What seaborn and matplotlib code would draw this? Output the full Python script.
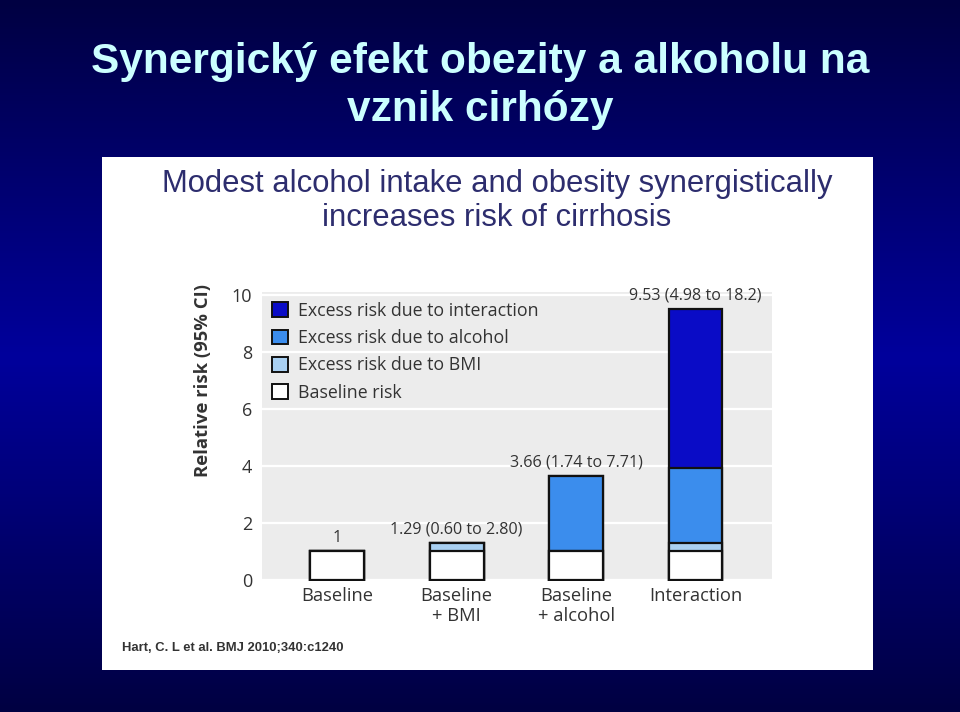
import numpy as np
import matplotlib
matplotlib.use("Agg")
import matplotlib.pyplot as plt
from matplotlib.patches import Patch, Rectangle
from matplotlib.colors import LinearSegmentedColormap
import seaborn as sns

# datos (Hart et al., BMJ 2010)
categorias = ["Baseline", "Baseline\n+ BMI", "Baseline\n+ alcohol", "Interaction"]
riesgo_base = [1.0, 1.0, 1.0, 1.0]
exceso_imc = [0.0, 0.29, 0.0, 0.29]
exceso_alcohol = [0.0, 0.0, 2.66, 2.66]
exceso_interaccion = [0.0, 0.0, 0.0, 5.58]
etiquetas_rr = ["1", "1.29 (0.60 to 2.80)", "3.66 (1.74 to 7.71)", "9.53 (4.98 to 18.2)"]
nombres_capas = ["Excess risk due to interaction", "Excess risk due to alcohol",
                 "Excess risk due to BMI", "Baseline risk"]
colores_capas = ["#0a0cc6", "#3b8ded", "#a9d0f2", "#ffffff"]
ticks_y = [0, 2, 4, 6, 8, 10]

sns.set_theme(style="darkgrid")
plt.rcParams["font.family"] = ["Open Sans", "DejaVu Sans"]

fig = plt.figure(figsize=(9.6, 7.12), dpi=100)

# fondo degradado azul de la diapositiva
fondo = fig.add_axes([0, 0, 1, 1])
fondo.set_axis_off()
mapa = LinearSegmentedColormap.from_list("diapo", ["#000042", "#00009c", "#000042"])
filas = np.linspace(0, 1, 400).reshape(-1, 1)
fondo.imshow(filas, aspect="auto", cmap=mapa, extent=[0, 1, 0, 1], origin="upper",
             vmin=0, vmax=1)
fondo.set_xlim(0, 1)
fondo.set_ylim(0, 1)

fig.text(0.5, 1 - 86 / 712, "Synergický efekt obezity a alkoholu na\nvznik cirhózy",
         ha="center", va="center", color="#ccffff", fontsize=30.5, fontweight="bold",
         family=["Liberation Sans", "DejaVu Sans"], linespacing=1.26)

# panel blanco con la figura original
fig.patches.append(Rectangle((102 / 960, 1 - 670 / 712), 771 / 960, 513 / 712,
                             transform=fig.transFigure, facecolor="white",
                             edgecolor="none", zorder=1))
fig.text(497 / 960, 1 - 201 / 712,
         "Modest alcohol intake and obesity synergistically\nincreases risk of cirrhosis",
         ha="center", va="center", color="#2d2d6e", fontsize=22.3,
         family=["Liberation Sans", "DejaVu Sans"], linespacing=1.2, zorder=3)
fig.text(122 / 960, 1 - 648 / 712, "Hart, C. L et al. BMJ 2010;340:c1240",
         ha="left", va="center", color="#333333", fontsize=9.4, fontweight="bold",
         family=["Liberation Sans", "DejaVu Sans"], zorder=3)

ax = fig.add_axes([262 / 960, 1 - 581 / 712, 510 / 960, 289 / 712])
ax.set_zorder(2)
ax.set_facecolor("#ececec")

# barras apiladas: se dibujan los acumulados de mayor a menor
acumulados = [
    np.array(riesgo_base) + np.array(exceso_imc) + np.array(exceso_alcohol) + np.array(exceso_interaccion),
    np.array(riesgo_base) + np.array(exceso_imc) + np.array(exceso_alcohol),
    np.array(riesgo_base) + np.array(exceso_imc),
    np.array(riesgo_base),
]
for valores, color in zip(acumulados, colores_capas):
    sns.barplot(x=categorias, y=valores, color=color, saturation=1, width=0.45,
                edgecolor="#111111", linewidth=1.6, ax=ax)

for i, texto in enumerate(etiquetas_rr):
    ax.text(i, acumulados[0][i] + 0.2, texto, ha="center", va="bottom",
            fontsize=11.6, color="#333333")

ax.set_xlim(-0.63, 3.64)
ax.set_ylim(-0.04, 10.12)
ax.set_yticks(ticks_y)
ax.grid(axis="y", color="white", linewidth=1.6)
ax.grid(axis="x", visible=False)
ax.tick_params(axis="both", length=0, labelsize=13, labelcolor="#333333")
ax.tick_params(axis="y", pad=7)
ax.tick_params(axis="x", pad=4)
ax.set_xticks(range(len(categorias)))
ax.set_xticklabels(categorias, linespacing=1.2, fontsize=13.2)
ax.set_ylabel("Relative risk (95% CI)", fontsize=13.3, fontweight="bold",
              color="#333333")
ax.yaxis.set_label_coords(-0.098, 0.695)
for lado in ax.spines.values():
    lado.set_visible(False)

manejadores = [Patch(facecolor=c, edgecolor="#111111", linewidth=1.4) for c in colores_capas]
ax.legend(manejadores, nombres_capas, loc="upper left", bbox_to_anchor=(0.0, 1.0),
          frameon=False, fontsize=12.8, handlelength=0.9, handleheight=0.9,
          handletextpad=0.6, labelspacing=0.52, borderaxespad=0.15,
          labelcolor="#333333")

fig.savefig("out.png", dpi=100)
